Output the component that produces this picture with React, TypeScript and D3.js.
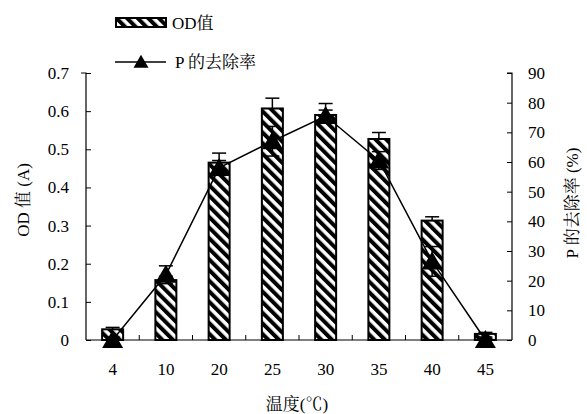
import { useEffect, useRef } from 'react';
import * as d3 from 'd3';

const temps = ['4', '10', '20', '25', '30', '35', '40', '45'];
const odValues = [0.028, 0.157, 0.465, 0.607, 0.59, 0.527, 0.313, 0.016];
const odErrors = [0.005, 0.01, 0.025, 0.027, 0.03, 0.017, 0.01, 0.004];
const removal = [0, 22, 58, 67, 75.5, 60.5, 26.5, 0];
const removalErrors = [1, 3, 2.5, 5, 2, 3, 5, 1];
const odTicks = [0, 0.1, 0.2, 0.3, 0.4, 0.5, 0.6, 0.7];
const pTicks = [0, 10, 20, 30, 40, 50, 60, 70, 80, 90];

const W = 587;
const H = 414;
const font = "'Liberation Serif', 'Noto Serif CJK SC'";

export default function App() {
  const svgRef = useRef<SVGSVGElement>(null);

  useEffect(() => {
    if (!svgRef.current) return;
    const svg = d3.select(svgRef.current);
    svg.selectAll('*').remove();

    const left = 86, right = 512, top = 73, bottom = 340;

    const x = d3.scaleBand().domain(temps).range([left, right]);
    const yL = d3.scaleLinear().domain([0, 0.7]).range([bottom, top]);
    const yR = d3.scaleLinear().domain([0, 90]).range([bottom, top]);

    // hatch pattern
    const defs = svg.append('defs');
    const pat = defs.append('pattern')
      .attr('id', 'hatch')
      .attr('patternUnits', 'userSpaceOnUse')
      .attr('width', 7.5)
      .attr('height', 7.5)
      .attr('patternTransform', 'rotate(-45)');
    pat.append('rect').attr('width', 7.5).attr('height', 7.5).attr('fill', '#fff');
    pat.append('rect').attr('width', 4).attr('height', 7.5).attr('fill', '#000');

    const barW = 21;
    const cx = (t: string) => (x(t) as number) + x.bandwidth() / 2;

    // bars
    svg.append('g').selectAll('rect')
      .data(temps)
      .join('rect')
      .attr('x', d => cx(d) - barW / 2)
      .attr('y', (_, i) => yL(odValues[i]))
      .attr('width', barW)
      .attr('height', (_, i) => bottom - yL(odValues[i]))
      .attr('fill', 'url(#hatch)')
      .attr('stroke', '#000')
      .attr('stroke-width', 2);

    const cap = 7;
    // OD error bars
    const odErr = svg.append('g').attr('stroke', '#000').attr('stroke-width', 1.5);
    temps.forEach((t, i) => {
      const c = cx(t);
      const y0 = yL(odValues[i]);
      const y1 = yL(odValues[i] + odErrors[i]);
      odErr.append('line').attr('x1', c).attr('x2', c).attr('y1', y0).attr('y2', y1);
      odErr.append('line').attr('x1', c - cap).attr('x2', c + cap).attr('y1', y1).attr('y2', y1);
    });

    // P error bars
    const pErr = svg.append('g').attr('stroke', '#000').attr('stroke-width', 1.5);
    temps.forEach((t, i) => {
      const c = cx(t);
      const hi = yR(removal[i] + removalErrors[i]);
      const lo = yR(Math.max(0, removal[i] - removalErrors[i]));
      pErr.append('line').attr('x1', c).attr('x2', c).attr('y1', hi).attr('y2', lo);
      [hi, lo].forEach(yy => {
        pErr.append('line').attr('x1', c - cap).attr('x2', c + cap).attr('y1', yy).attr('y2', yy);
      });
    });

    // line
    const line = d3.line<number>()
      .x((_, i) => cx(temps[i]))
      .y(d => yR(d));
    svg.append('path')
      .datum(removal)
      .attr('d', line)
      .attr('fill', 'none')
      .attr('stroke', '#000')
      .attr('stroke-width', 1.5);

    const tri = (w: number, h: number) => `M0,${-h * 0.55}L${w / 2},${h * 0.45}L${-w / 2},${h * 0.45}Z`;
    svg.append('g').selectAll('path')
      .data(removal)
      .join('path')
      .attr('transform', (d, i) => `translate(${cx(temps[i])},${yR(d)})`)
      .attr('d', tri(21, 18))
      .attr('fill', '#000');

    // axes
    const axL = svg.append('g')
      .attr('transform', `translate(${left},0)`)
      .call(d3.axisLeft(yL).tickValues(odTicks).tickSize(-5).tickPadding(17)
        .tickFormat(d => (+d === 0 ? '0' : d3.format('.1f')(+d))));
    const axR = svg.append('g')
      .attr('transform', `translate(${right},0)`)
      .call(d3.axisRight(yR).tickValues(pTicks).tickSize(-5).tickPadding(16).tickFormat(d3.format('d')));
    const axB = svg.append('g')
      .attr('transform', `translate(0,${bottom})`)
      .call(d3.axisBottom(x).tickSize(0).tickPadding(23));
    // x ticks at band boundaries
    svg.append('g').selectAll('line')
      .data(temps.slice(1))
      .join('line')
      .attr('x1', d => x(d) as number)
      .attr('x2', d => x(d) as number)
      .attr('y1', bottom)
      .attr('y2', bottom - 5)
      .attr('stroke', '#000')
      .attr('stroke-width', 1);

    [axL, axR, axB].forEach(a => {
      a.attr('font-family', null).attr('font-size', null);
      a.select('.domain').attr('stroke', '#000').attr('stroke-width', 1.2);
      a.selectAll('.tick line').attr('stroke', '#000');
      a.selectAll('.tick text').attr('fill', '#000');
    });
    axL.select('.domain').attr('d', `M-5,${top}H0V${bottom}`);
    axR.select('.domain').attr('d', `M-5,${top}H0V${bottom}`);
    axB.select('.domain').attr('d', `M${left},0H${right}`);

    // axis titles
    const title = (tx: string, px: number, py: number, rot: number) =>
      svg.append('text')
        .attr('transform', `translate(${px},${py}) rotate(${rot})`)
        .attr('text-anchor', 'middle')
        .attr('dominant-baseline', 'central')
        .text(tx);
    title('OD 值 (A)', 23, 200, -90);
    title('P 的去除率 (%)', 572, 203, -90);
    title('温度(℃)', 297, 404, 0);

    // legend
    const lg = svg.append('g');
    lg.append('rect')
      .attr('x', 116).attr('y', 18).attr('width', 50).attr('height', 9)
      .attr('fill', 'url(#hatch)').attr('stroke', '#000').attr('stroke-width', 2);
    lg.append('text').attr('x', 172).attr('y', 23).attr('dominant-baseline', 'central').text('OD值');
    lg.append('line').attr('x1', 115).attr('x2', 166).attr('y1', 62).attr('y2', 62)
      .attr('stroke', '#000').attr('stroke-width', 1.5);
    lg.append('path').attr('transform', 'translate(141,62)').attr('d', tri(15, 13)).attr('fill', '#000');
    lg.append('text').attr('x', 175).attr('y', 62).attr('dominant-baseline', 'central').text('P 的去除率');
  }, []);

  return (
    <div style={{ position: 'absolute', left: 0, top: 0, width: W, height: H, background: '#fff' }}>
      <svg ref={svgRef} width={W} height={H} style={{ fontFamily: font, fontSize: 17 }} />
    </div>
  );
}
